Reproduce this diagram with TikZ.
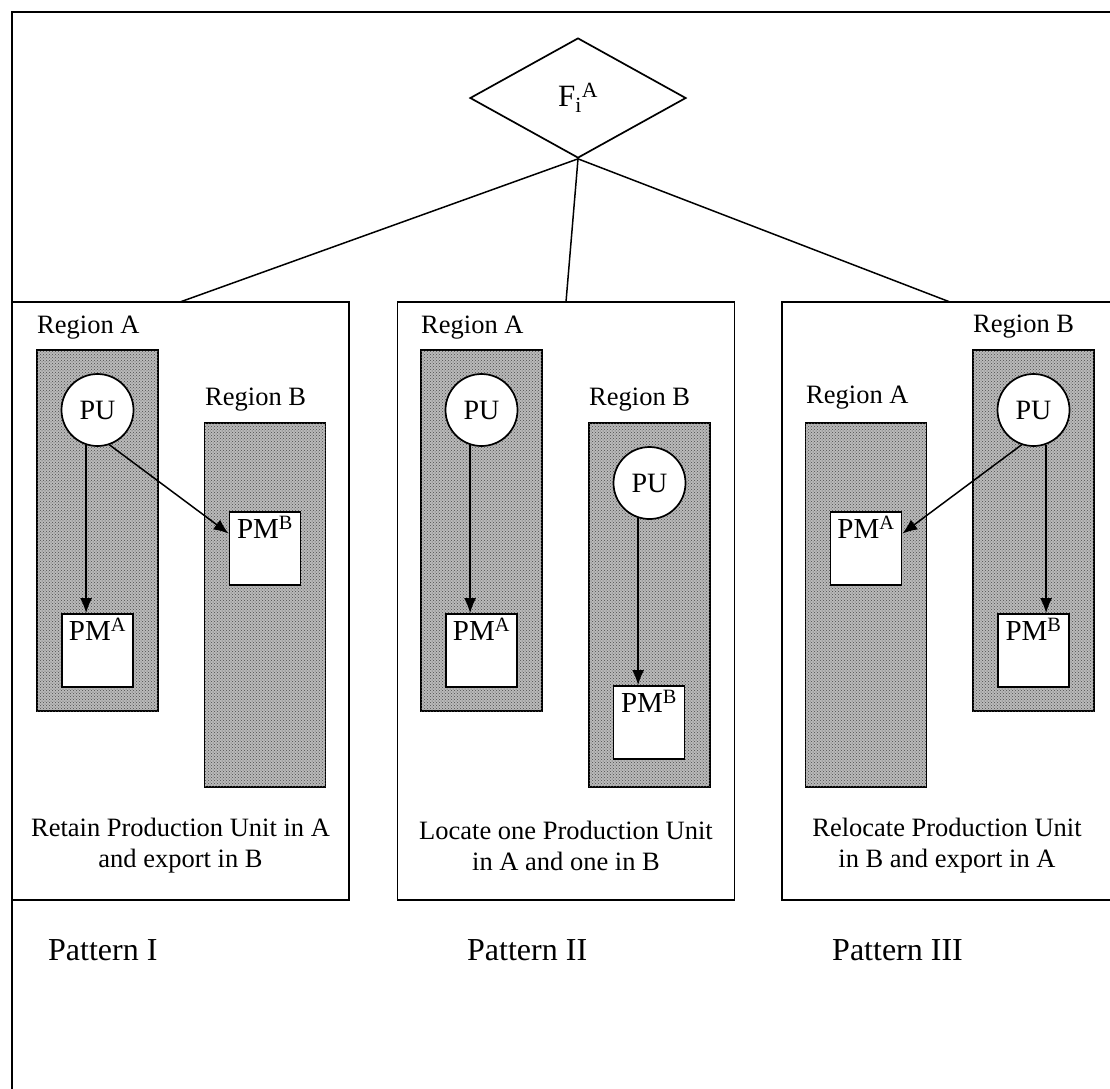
\documentclass[tikz,border=0pt]{standalone}
\usepackage{fontspec}
\setmainfont{Liberation Serif}
\usetikzlibrary{shapes.geometric,arrows.meta,patterns,calc}
\begin{document}
\begin{tikzpicture}[x=1pt,y=-1pt,
  txt/.style={font=\fontsize{26.5}{31}\selectfont, inner sep=0pt},
  pat/.style={font=\fontsize{32}{36}\selectfont, inner sep=0pt, anchor=west},
  panel/.style={draw, line width=1.7pt, minimum width=337pt, minimum height=598pt, inner sep=0pt},
  shade/.style={draw, line width=1.7pt, inner sep=0pt, minimum width=121pt,
     fill=black!27, postaction={pattern=crosshatch dots, pattern color=black!70}},
  regA/.style={shade, minimum height=361pt},
  regB/.style={shade, minimum height=364pt},
  pu/.style={draw, circle, line width=1.7pt, fill=white, minimum size=72pt, inner sep=0pt,
     font=\fontsize{28}{32}\selectfont},
  pm/.style={draw, line width=1.7pt, fill=white, minimum width=71pt, minimum height=73pt, inner sep=0pt},
  pmlab/.style={anchor=north, inner sep=0pt, yshift=-5pt, font=\fontsize{29}{33}\selectfont},
  arr/.style={line width=1.5pt, -{Latex[length=15pt,width=12pt]}},
  conn/.style={line width=1.5pt}
]
\useasboundingbox (0,0) rectangle (1110,1088);
\clip (0,0) rectangle (1110,1088);
% outer frame
\draw[line width=2.2pt] (12,1200) -- (12,12) -- (1200,12);

% top diamond
\node[draw, diamond, line width=1.7pt, aspect=1.8, minimum width=216pt, minimum height=120pt, inner sep=0pt,
  font=\fontsize{31}{34}\selectfont] (F) at (578,98) {F\textsubscript{i}\textsuperscript{A}};

% panels
\node[panel] (b1) at (180.5,601) {};
\node[panel] (b2) at (566,601) {};
\node[panel] (b3) at (950.5,601) {};
\coordinate (t1) at (180,302);
\coordinate (t2) at (566,302);
\coordinate (t3) at (950,302);
\draw[conn] (F.south) -- (t1);
\draw[conn] (F.south) -- (t2);
\draw[conn] (F.south) -- (t3);

% ---------- Pattern I ----------
\node[txt, anchor=west] (r1a) at (37,328) {Region A};
\node[txt, anchor=west] (r1b) at (205,400) {Region B};
\node[regA] (s1a) at (97.5,530.5) {};
\node[regB] (s1b) at (265,605) {};
\node[pu] (pu1) at (97.5,410) {PU};
\node[pm] (pmA1) at (97.5,650.5) {};
\node[pmlab] at (pmA1.north) {PM\textsuperscript{A}};
\node[pm] (pmB1) at (265,548.5) {};
\node[pmlab] at (pmB1.north) {PM\textsuperscript{B}};
\draw[arr] (pu1.289) -- ($(pmB1.north west)!0.3!(pmB1.south west)$);
\draw[arr] (pu1.252) -- (pu1.252 |- pmA1.north);
\node[txt, align=center] (c1) at (180.5,846) {Retain Production Unit in A\\and export in B};

% ---------- Pattern II ----------
\node[txt, anchor=west] (r2a) at (421,328) {Region A};
\node[txt, anchor=west] (r2b) at (589,400) {Region B};
\node[regA] (s2a) at (481.5,530.5) {};
\node[regB] (s2b) at (649.5,605) {};
\node[pu] (pu2) at (481.5,410) {PU};
\node[pu] (pu3) at (649.5,483) {PU};
\node[pm] (pmA2) at (481.5,650.5) {};
\node[pmlab] at (pmA2.north) {PM\textsuperscript{A}};
\node[pm] (pmB2) at (649,722.5) {};
\node[pmlab] at (pmB2.north) {PM\textsuperscript{B}};
\draw[arr] (pu2.252) -- (pu2.252 |- pmA2.north);
\draw[arr] (pu3.252) -- (pu3.252 |- pmB2.north);
\node[txt, align=center] (c2) at (566,846) {Locate one Production Unit\\in A and one in B};

% ---------- Pattern III ----------
\node[txt, anchor=west] (r3a) at (806,398) {Region A};
\node[txt, anchor=west] (r3b) at (973,327) {Region B};
\node[regB] (s3a) at (866,605) {};
\node[regA] (s3b) at (1033.5,530.5) {};
\node[pu] (pu4) at (1033.5,410) {PU};
\node[pm] (pmA3) at (866,548.5) {};
\node[pmlab] at (pmA3.north) {PM\textsuperscript{A}};
\node[pm] (pmB3) at (1033.5,650.5) {};
\node[pmlab] at (pmB3.north) {PM\textsuperscript{B}};
\draw[arr] (pu4.251) -- ($(pmA3.north east)!0.3!(pmA3.south east)$);
\draw[arr] (pu4.290) -- (pu4.290 |- pmB3.north);
\node[txt, align=center] (c3) at (947,846) {Relocate Production Unit\\in B and export in A};

% pattern labels
\node[pat] (p1) at (48,950) {Pattern I};
\node[pat] (p2) at (467,950) {Pattern II};
\node[pat] (p3) at (832,950) {Pattern III};
\end{tikzpicture}
\end{document}
